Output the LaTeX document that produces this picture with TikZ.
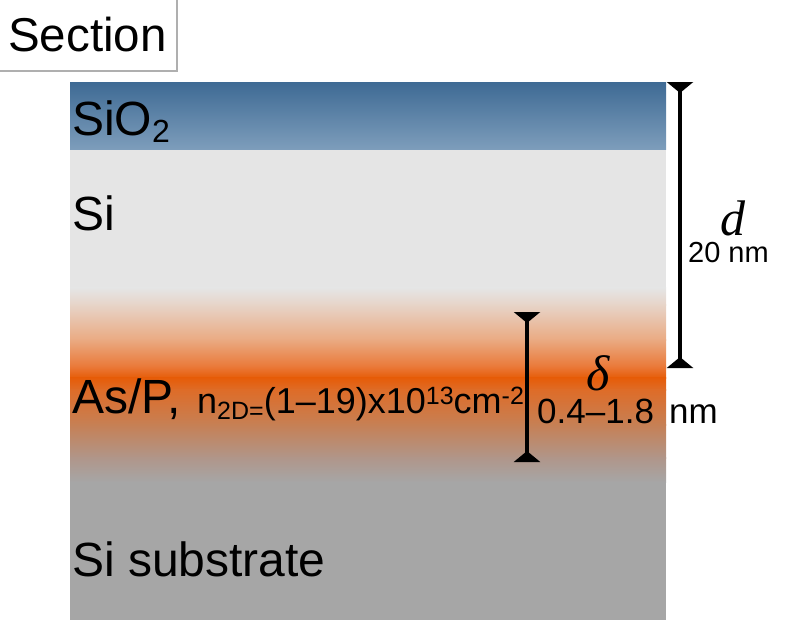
\documentclass[tikz,border=0pt]{standalone}
\usepackage{fontspec}
\setmainfont{Liberation Sans}
\newfontfamily\timesfont{Liberation Serif}
\usetikzlibrary{arrows.meta}
\definecolor{sioTop}{RGB}{62,106,148}
\definecolor{sioBot}{RGB}{125,157,187}
\definecolor{siGray}{RGB}{229,229,229}
\definecolor{subGray}{RGB}{166,166,166}
\definecolor{frameGray}{RGB}{175,175,175}
\definecolor{ga}{RGB}{229,229,229}
\definecolor{gb}{RGB}{231,212,200}
\definecolor{gc}{RGB}{234,170,130}
\definecolor{gd}{RGB}{234,120,55}
\definecolor{ge}{RGB}{230,92,8}
\definecolor{gf}{RGB}{222,108,40}
\definecolor{gg}{RGB}{198,128,85}
\definecolor{gh}{RGB}{176,150,138}
\definecolor{gi}{RGB}{166,166,166}
\newcommand{\sz}[1]{\fontsize{#1}{#1}\selectfont}
\tikzset{
  lbl/.style={inner sep=0pt, anchor=base west, font=\sz{48}},
  small/.style={inner sep=0pt, anchor=base west, font=\sz{36}},
  greek/.style={inner sep=0pt, anchor=base west, font=\timesfont\itshape\sz{50}},
  dimbar/.style={line width=4pt, {Triangle[reversed,width=26pt,length=11pt]}-{Triangle[reversed,width=26pt,length=11pt]}},
}
\begin{document}
\begin{tikzpicture}[x=1pt,y=-1pt]
\useasboundingbox (0,0) rectangle (792,626);
% section frame
\draw[frameGray, line width=2.5pt] (-5,71) -- (177,71) -- (177,-5);
\node[lbl, font=\sz{47.5}] (sec) at (8,52) {Section};
% layers
\fill[subGray] (70,480) rectangle (666,620);
\fill[siGray] (70,149) rectangle (666,290);
\foreach \ya/\ca/\yb/\cb in {288/ga/305/gb, 305/gb/340/gc, 340/gc/367/gd, 367/gd/378/ge, 378/ge/390/gf, 390/gf/425/gg, 425/gg/458/gh, 458/gh/482/gi}{
  \shade[top color=\ca, bottom color=\cb] (70,\ya-0.3) rectangle (666,\yb+0.3);
}
\shade[top color=sioTop, bottom color=sioBot] (70,82) rectangle (666,149);
% labels
\node[lbl] (sio) at (72,135) {SiO\raisebox{-7pt}{\sz{32}2}};
\node[lbl] (si) at (72,230) {Si};
\node[lbl] (asp) at (72,413) {As/P,};
\node[small] (dop) at (197,413) {n\raisebox{-6pt}{\sz{25}2D=}(1–19)x10\raisebox{9pt}{\sz{25}13}cm\raisebox{9pt}{\sz{25}-2}};
\node[lbl] (sub) at (72,576) {Si substrate};
% d dimension
\coordinate (dtop) at (680,82);
\coordinate (dbot) at (680,368);
\draw[dimbar] (dtop) -- (dbot);
\node[greek] (dl) at (720,235) {d};
\node[inner sep=0pt, anchor=base west, font=\sz{29}] (dv) at (688,262) {20 nm};
% delta dimension
\coordinate (ttop) at (527,312);
\coordinate (tbot) at (527,462);
\draw[dimbar] (ttop) -- (tbot);
\node[greek] (tl) at (586,390) {δ};
\node[inner sep=0pt, anchor=base west, font=\sz{35}] (tv) at (537,423) {0.4–1.8};
\node[inner sep=0pt, anchor=base west, font=\sz{35}] (tn) at (669,423) {nm};
\end{tikzpicture}
\end{document}
